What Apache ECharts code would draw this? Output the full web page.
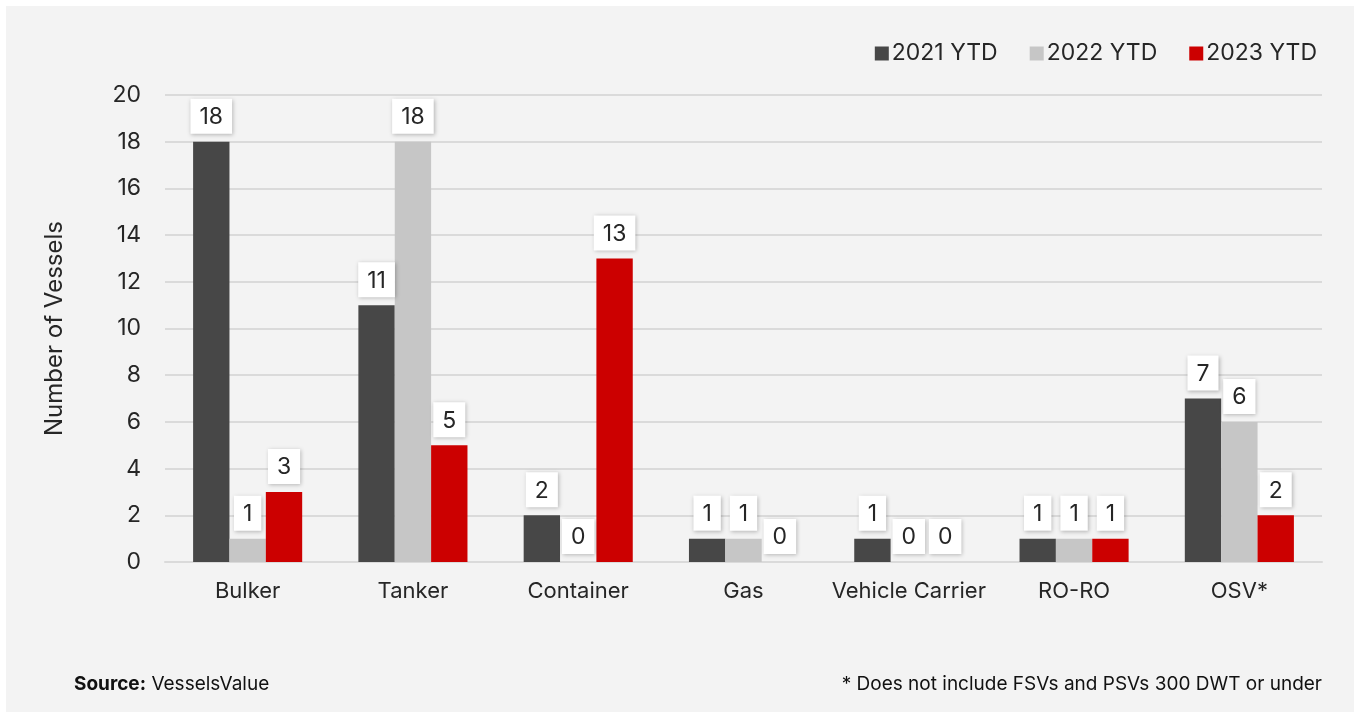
<!DOCTYPE html>
<html>
<head>
<meta charset="utf-8">
<script src="https://cdn.jsdelivr.net/npm/echarts@6/dist/echarts.min.js"></script>
<style>
html,body{margin:0;padding:0;background:#ffffff;}
#wrap{position:absolute;left:6px;top:6px;width:1348px;height:706px;background:#f3f3f3;}
#chart{width:1360px;height:718px;position:absolute;left:0;top:0;}
</style>
</head>
<body>
<div id="wrap"></div>
<div id="chart"></div>
<script>
var categories = ['Bulker', 'Tanker', 'Container', 'Gas', 'Vehicle Carrier', 'RO-RO', 'OSV*'];
var seriesNames = ['2021 YTD', '2022 YTD', '2023 YTD'];
var values2021 = [18, 11, 2, 1, 1, 1, 7];
var values2022 = [1, 18, 0, 1, 0, 1, 6];
var values2023 = [3, 5, 13, 0, 0, 1, 2];
var colors = ['#474747', '#c6c6c6', '#cc0000'];
var yTicks = [0, 2, 4, 6, 8, 10, 12, 14, 16, 18, 20];

var FONT = 'Inter, "Noto Sans", sans-serif';
var chart = echarts.init(document.getElementById('chart'), null, {renderer: 'canvas'});

function mkSeries(name, data, color) {
  return {
    name: name,
    type: 'bar',
    data: data,
    itemStyle: {color: color},
    barGap: '0%',
    barCategoryGap: '34%',
    label: {
      show: true,
      position: 'top',
      distance: 8,
      color: '#262626',
      fontFamily: FONT,
      fontSize: 23,
      backgroundColor: '#ffffff',
      padding: [7, 9, 5, 9],
      shadowColor: 'rgba(0,0,0,0.25)',
      shadowBlur: 4,
      shadowOffsetX: 1,
      shadowOffsetY: 1
    }
  };
}

chart.setOption({
  backgroundColor: 'transparent',
  animation: false,
  color: colors,
  legend: {
    right: 38,
    top: 37,
    itemWidth: 14,
    itemHeight: 14,
    itemGap: 32,
    icon: 'rect',
    textStyle: {fontFamily: FONT, fontSize: 23, color: '#262626', padding: [0, 0, 0, -2]},
    data: seriesNames
  },
  grid: {left: 165, right: 38, top: 95, bottom: 156, containLabel: false},
  xAxis: {
    type: 'category',
    data: categories,
    axisLine: {show: true, lineStyle: {color: '#dadada', width: 2}},
    axisTick: {show: false},
    axisLabel: {interval: 0, fontFamily: FONT, fontSize: 22, color: '#262626', margin: 18}
  },
  yAxis: {
    type: 'value',
    min: 0,
    max: 20,
    interval: 2,
    name: 'Number of Vessels',
    nameLocation: 'middle',
    nameGap: 98,
    nameTextStyle: {fontFamily: FONT, fontSize: 24, color: '#262626'},
    axisLine: {show: false},
    axisTick: {show: false},
    axisLabel: {
      fontFamily: FONT, fontSize: 23, color: '#262626', margin: 24,
      formatter: function (v) { return yTicks.indexOf(v) >= 0 ? String(v) : ''; }
    },
    splitLine: {lineStyle: {color: '#dadada', width: 2}}
  },
  graphic: [
    {
      type: 'text', left: 74, top: 675,
      style: {
        text: '{b|Source:} VesselsValue',
        rich: {b: {fontFamily: FONT, fontWeight: 'bold', fontSize: 19, fill: '#111'}},
        fontFamily: FONT, fontSize: 19, fill: '#111'
      }
    },
    {
      type: 'text', right: 38, top: 675,
      style: {text: '* Does not include FSVs and PSVs 300 DWT or under', fontFamily: FONT, fontSize: 19, fill: '#111'}
    }
  ],
  series: [
    mkSeries(seriesNames[0], values2021, colors[0]),
    mkSeries(seriesNames[1], values2022, colors[1]),
    mkSeries(seriesNames[2], values2023, colors[2])
  ]
});
</script>
</body>
</html>
